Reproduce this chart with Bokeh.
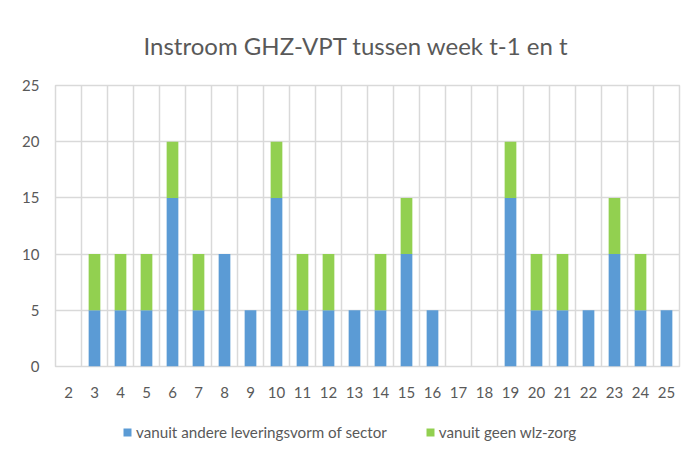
from bokeh.plotting import figure
from bokeh.layouts import column
from bokeh.models import FixedTicker, Legend, LegendItem, Title, Range1d, ColumnDataSource
from bokeh.embed import file_html
from bokeh.resources import INLINE

weeks = [2, 3, 4, 5, 6, 7, 8, 9, 10, 11, 12, 13, 14, 15, 16, 17, 18, 19, 20, 21, 22, 23, 24, 25]
andere = [0, 5, 5, 5, 15, 5, 10, 5, 15, 5, 5, 5, 5, 10, 5, 0, 0, 15, 5, 5, 5, 10, 5, 5]
geen_wlz = [0, 5, 5, 5, 5, 5, 0, 0, 5, 5, 5, 0, 5, 5, 0, 0, 0, 5, 5, 5, 0, 5, 5, 0]
series_names = ["vanuit andere leveringsvorm of sector", "vanuit geen wlz-zorg"]
colors = ["#5B9BD5", "#92D050"]
y_ticks = [0, 5, 10, 15, 20, 25]

FONT = "Lato"
TXT = "#595959"
GRID = "#d9d9d9"

data = dict(week=weeks, andere=andere, geen_wlz=geen_wlz)

# main chart
p = figure(frame_width=624, frame_height=281, output_backend="svg", toolbar_location=None,
           x_range=(weeks[0] - 0.5, weeks[-1] + 0.5), y_range=(0, y_ticks[-1]),
           min_border_left=55, min_border_right=8, min_border_top=85, min_border_bottom=38)

t = Title(text="Instroom GHZ-VPT tussen week t-1 en t", align="left", offset=88,
          text_font=FONT, text_font_size="24px", text_font_style="normal",
          text_color=TXT, standoff=52)
p.add_layout(t, "above")

p.vbar_stack(["andere", "geen_wlz"], x="week", width=0.45, color=colors,
             line_color=None, source=ColumnDataSource(data))

p.outline_line_color = GRID
p.outline_line_width = 1.5
p.xaxis.ticker = FixedTicker(ticks=weeks)
p.yaxis.ticker = FixedTicker(ticks=y_ticks)
for ax in (p.xaxis[0], p.yaxis[0]):
    ax.axis_line_color = None
    ax.major_tick_line_color = None
    ax.minor_tick_line_color = None
    ax.major_label_text_font = FONT
    ax.major_label_text_font_size = "15px"
    ax.major_label_text_color = TXT
p.xaxis.major_label_standoff = 14
p.yaxis.major_label_standoff = 10

p.xgrid.ticker = FixedTicker(ticks=[w - 0.5 for w in weeks] + [weeks[-1] + 0.5])
p.xgrid.grid_line_color = GRID
p.ygrid.grid_line_color = GRID
p.ygrid.grid_line_width = 1.5
p.xgrid.grid_line_width = 1.5

# legend strip: same series, ranges set far away so only the legend entries show
lg = figure(width=687, height=50, output_backend="svg", toolbar_location=None,
            x_range=Range1d(1000, 1001), y_range=Range1d(1000, 1001),
            x_axis_location=None, y_axis_location=None, min_border=0)
lr = lg.vbar_stack(["andere", "geen_wlz"], x="week", width=0.45, color=colors,
                   line_color=None, source=ColumnDataSource(data))
lg.grid.visible = False
lg.outline_line_color = None
legend = Legend(items=[LegendItem(label=series_names[i], renderers=[lr[i]]) for i in range(2)],
                orientation="horizontal", location=(67, 13),
                label_text_font=FONT, label_text_font_size="15.2px", label_text_color=TXT,
                glyph_width=10, glyph_height=10, spacing=38, border_line_color=None,
                background_fill_alpha=0, margin=0, padding=0, label_standoff=4)
lg.add_layout(legend, "center")

layout = column(p, lg, spacing=0)
open("out.html", "w").write(file_html(layout, INLINE))
